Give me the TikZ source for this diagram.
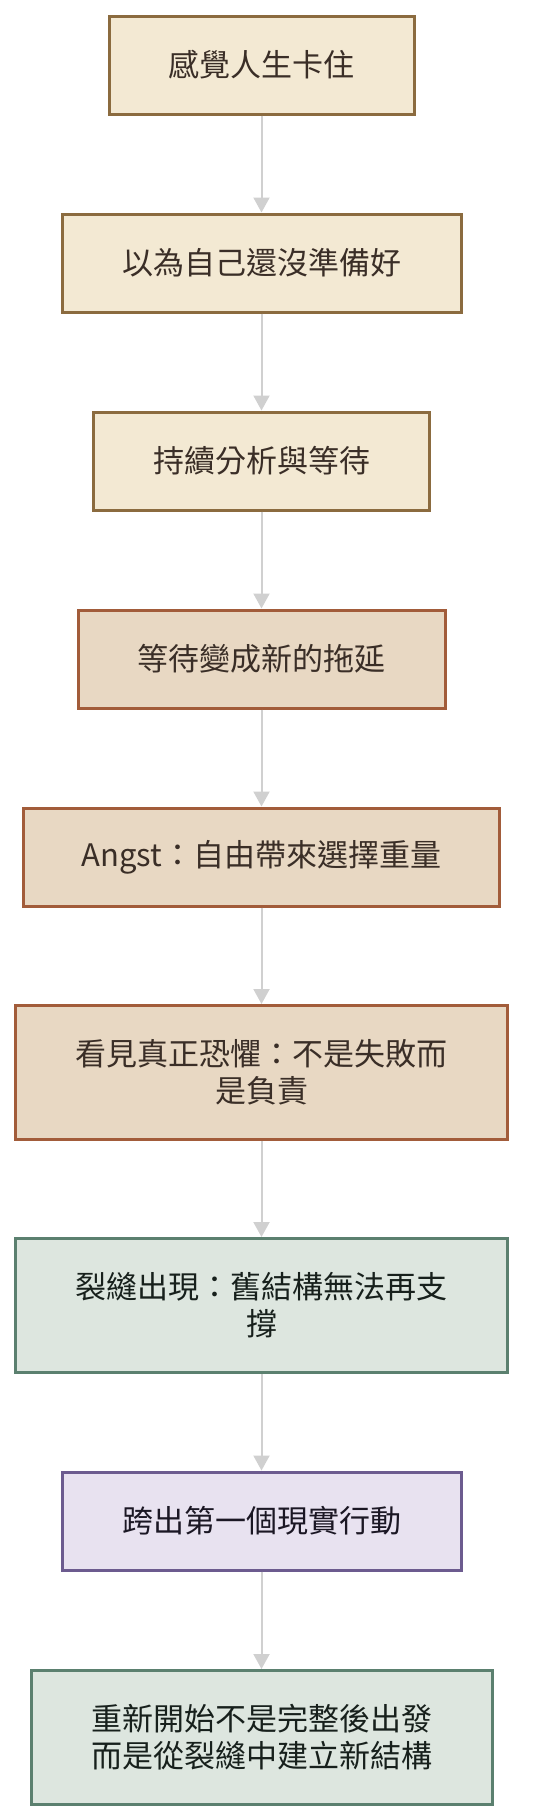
\documentclass[tikz,border=0pt]{standalone}
\usepackage{fontspec}
\setmainfont{Noto Sans CJK TC}
\usetikzlibrary{arrows.meta}
\newcommand{\edgewd}{3pt}
\definecolor{creamfill}{HTML}{F3E9D3}
\definecolor{creamdraw}{HTML}{8B6B3F}
\definecolor{rustfill}{HTML}{E8D8C3}
\definecolor{rustdraw}{HTML}{A25C3A}
\definecolor{sagefill}{HTML}{DDE6DF}
\definecolor{sagedraw}{HTML}{5B806F}
\definecolor{lilacfill}{HTML}{E8E2F0}
\definecolor{lilacdraw}{HTML}{6C5B8F}
\definecolor{inkdark}{HTML}{3A2E27}
\definecolor{arrowgray}{HTML}{D0D0D0}

\begin{document}
\begin{tikzpicture}[x=1pt, y=-1pt,
    stage/.style={draw, line width=\edgewd, rectangle, align=center, inner sep=0pt,
      font=\fontsize{31}{37}\selectfont, text=inkdark, minimum height=98pt},
    tall/.style={minimum height=134pt},
    cream/.style={stage, fill=creamfill, draw=creamdraw},
    rust/.style={stage, fill=rustfill, draw=rustdraw},
    sage/.style={stage, fill=sagefill, draw=sagedraw, text=black!75!sagedraw},
    lilac/.style={stage, fill=lilacfill, draw=lilacdraw, text=black!75!lilacdraw},
    flow/.style={draw=arrowgray, line width=2pt, -{Triangle[width=16pt,length=15pt]}}]
      \useasboundingbox (0,0) rectangle (536,1820);
      \node (1) at (261.5,65)  [cream, minimum width=305pt] {感覺人生卡住};
      \node (2) at (261.5,263)  [cream, minimum width=399pt] {以為自己還沒準備好};
      \node (3) at (261.5,461)  [cream, minimum width=336pt] {持續分析與等待};
      \node (4) at (261.5,659)  [rust, minimum width=367pt] {等待變成新的拖延};
      \node (5) at (261.5,857)  [rust, minimum width=476pt] {Angst：自由帶來選擇重量};
      \node (6) at (261.5,1072.5)  [rust, tall, minimum width=492pt] {看見真正恐懼：不是失敗而\\是負責};
      \node (7) at (261.5,1305.5)  [sage, tall, minimum width=492pt] {裂縫出現：舊結構無法再支\\撐};
      \node (8) at (261.5,1521)  [lilac, minimum width=399pt] {跨出第一個現實行動};
      \node (9) at (261.5,1737.5)  [sage, tall, minimum width=461pt] {重新開始不是完整後出發\\而是從裂縫中建立新結構};
      \draw[flow] (1) to (2);
      \draw[flow] (2) to (3);
      \draw[flow] (3) to (4);
      \draw[flow] (4) to (5);
      \draw[flow] (5) to (6);
      \draw[flow] (6) to (7);
      \draw[flow] (7) to (8);
      \draw[flow] (8) to (9);

  \end{tikzpicture}
\end{document}
